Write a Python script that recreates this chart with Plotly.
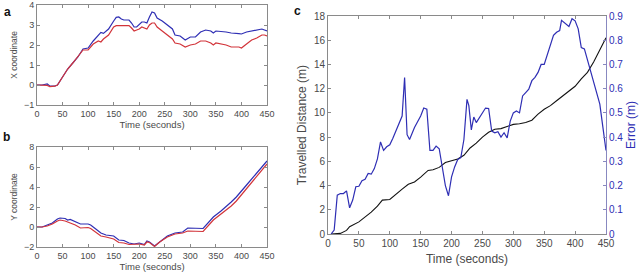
import plotly.graph_objects as go

# Panel a: X coordinate
ta = [0, 10, 20, 25, 35, 40, 50, 60, 70, 80, 90, 100, 110, 120, 125, 130, 140, 150, 155, 160, 165, 170, 180, 185, 190, 195, 200, 205, 210, 215, 220, 225, 230, 235, 245, 255, 265, 270, 280, 290, 300, 310, 320, 330, 340, 345, 350, 370, 380, 395, 400, 410, 420, 430, 440, 445, 450]
xa_blue = [0, 0, 0.05, -0.05, -0.05, 0, 0.4, 0.8, 1.1, 1.4, 1.8, 1.85, 2.2, 2.5, 2.63, 2.58, 2.8, 3.2, 3.38, 3.4, 3.3, 3.25, 3.25, 3.1, 2.9, 2.9, 3.05, 3.15, 3.15, 3.1, 3.4, 3.65, 3.6, 3.35, 3.2, 3.0, 2.8, 2.5, 2.45, 2.25, 2.4, 2.4, 2.65, 2.75, 2.7, 2.6, 2.7, 2.65, 2.6, 2.57, 2.55, 2.65, 2.7, 2.75, 2.8, 2.75, 2.7]
xa_red = [0, 0, -0.02, -0.08, -0.06, 0, 0.4, 0.8, 1.1, 1.4, 1.75, 1.75, 2.05, 2.2, 2.15, 2.3, 2.5, 2.9, 2.97, 2.97, 2.97, 2.97, 2.97, 2.85, 2.7, 2.75, 2.8, 2.9, 2.85, 2.8, 3.0, 3.1, 3.1, 2.9, 2.7, 2.5, 2.3, 2.1, 2.05, 1.9, 2.0, 2.05, 2.2, 2.2, 2.1, 2.0, 2.1, 2.0, 1.9, 1.9, 1.85, 2.05, 2.25, 2.35, 2.5, 2.5, 2.45]

# Panel b: Y coordinate
tb = [0, 10, 20, 30, 40, 45, 55, 60, 65, 75, 85, 100, 105, 115, 125, 135, 150, 160, 170, 180, 190, 200, 210, 215, 220, 230, 240, 255, 270, 285, 295, 310, 325, 345, 360, 380, 390, 410, 430, 450]
yb_blue = [0, 0, 0.2, 0.4, 0.8, 0.9, 0.85, 0.7, 0.75, 0.5, 0.3, 0.3, 0.2, -0.2, -0.6, -0.8, -0.9, -1.3, -1.35, -1.6, -1.7, -1.6, -1.75, -1.4, -1.5, -1.9, -1.5, -0.9, -0.6, -0.5, -0.1, -0.1, -0.15, 1.0, 1.6, 2.5, 3.0, 4.2, 5.4, 6.6]
yb_red = [0, 0, 0.1, 0.3, 0.6, 0.7, 0.6, 0.5, 0.45, 0.2, -0.1, -0.05, -0.15, -0.5, -0.9, -1.0, -1.2, -1.55, -1.6, -1.75, -1.7, -1.7, -1.8, -1.5, -1.55, -1.95, -1.5, -1.0, -0.7, -0.6, -0.4, -0.4, -0.45, 0.7, 1.3, 2.1, 2.6, 3.8, 5.0, 6.3]

# Panel c: travelled distance
tc_d = [5, 10, 20, 30, 35, 50, 60, 70, 80, 88, 100, 110, 120, 130, 140, 150, 162, 170, 180, 190, 200, 210, 220, 230, 240, 250, 260, 270, 280, 290, 300, 310, 320, 330, 340, 350, 360, 370, 380, 390, 400, 410, 420, 430, 440, 450]
dist = [0, 0, 0.05, 0.3, 0.6, 1.0, 1.4, 1.8, 2.3, 2.8, 2.85, 3.3, 3.7, 4.1, 4.3, 4.7, 5.25, 5.3, 5.5, 5.9, 6.05, 6.2, 6.5, 7.1, 7.5, 8.0, 8.4, 8.65, 8.7, 8.9, 9.05, 9.1, 9.2, 9.4, 9.9, 10.3, 10.6, 11.0, 11.4, 11.8, 12.2, 12.8, 13.35, 14.2, 15.15, 16.2]

# Panel c: error
tc_e = [5, 10, 15, 20, 25, 30, 35, 40, 45, 50, 55, 60, 65, 70, 75, 80, 85, 90, 95, 100, 105, 110, 115, 120, 124, 128, 132, 140, 150, 155, 160, 163, 165, 170, 175, 180, 185, 190, 195, 200, 205, 210, 215, 220, 225, 228, 232, 236, 240, 245, 250, 255, 260, 265, 270, 275, 280, 285, 290, 295, 300, 305, 310, 315, 320, 325, 330, 335, 340, 345, 350, 355, 360, 365, 370, 375, 378, 385, 390, 395, 400, 405, 410, 415, 420, 425, 430, 435, 440, 445, 450]
err = [0, 0.016, 0.16, 0.167, 0.167, 0.178, 0.108, 0.14, 0.195, 0.197, 0.22, 0.226, 0.25, 0.247, 0.27, 0.31, 0.38, 0.345, 0.36, 0.368, 0.395, 0.428, 0.46, 0.487, 0.646, 0.41, 0.39, 0.44, 0.487, 0.52, 0.515, 0.397, 0.345, 0.345, 0.363, 0.352, 0.27, 0.2, 0.158, 0.236, 0.277, 0.308, 0.315, 0.39, 0.556, 0.53, 0.43, 0.483, 0.46, 0.48, 0.5, 0.52, 0.518, 0.425, 0.418, 0.422, 0.4, 0.418, 0.397, 0.466, 0.5, 0.508, 0.5, 0.57, 0.584, 0.598, 0.633, 0.647, 0.667, 0.70, 0.70, 0.743, 0.785, 0.82, 0.833, 0.84, 0.882, 0.868, 0.857, 0.889, 0.88, 0.847, 0.77, 0.764, 0.72, 0.674, 0.633, 0.578, 0.536, 0.44, 0.345]

BLUE = "#2e2eb4"
RED = "#d2343a"
GREY = "#4a4a4a"
AXC = "#8a8a8a"
FONT = "Liberation Sans, Arial, sans-serif"

fig = go.Figure()
fig.add_trace(go.Scatter(x=ta, y=xa_blue, mode="lines", line=dict(color=BLUE, width=1.2), xaxis="x", yaxis="y"))
fig.add_trace(go.Scatter(x=ta, y=xa_red, mode="lines", line=dict(color=RED, width=1.2), xaxis="x", yaxis="y"))
fig.add_trace(go.Scatter(x=tb, y=yb_blue, mode="lines", line=dict(color=BLUE, width=1.2), xaxis="x2", yaxis="y2"))
fig.add_trace(go.Scatter(x=tb, y=yb_red, mode="lines", line=dict(color=RED, width=1.2), xaxis="x2", yaxis="y2"))
fig.add_trace(go.Scatter(x=tc_d, y=dist, mode="lines", line=dict(color="#111111", width=1.1), xaxis="x3", yaxis="y3"))
fig.add_trace(go.Scatter(x=tc_e, y=err, mode="lines", line=dict(color=BLUE, width=1.2), xaxis="x3", yaxis="y4"))

def xax(domain, anchor, size, title_size, standoff):
    return dict(domain=domain, anchor=anchor, range=[0, 450], tickmode="array",
                tickvals=list(range(0, 451, 50)), ticks="inside", ticklen=3, tickcolor=AXC,
                showline=True, linecolor=AXC, linewidth=1, mirror="ticks", showgrid=False,
                zeroline=False, automargin=False,
                tickfont=dict(size=size, color=GREY, family=FONT),
                title=dict(text="Time (seconds)", font=dict(size=title_size, color=GREY, family=FONT), standoff=standoff))

def yax(domain, anchor, rng, tv, text, size, title_size, standoff):
    return dict(domain=domain, anchor=anchor, range=rng, tickmode="array", tickvals=tv,
                ticks="inside", ticklen=3, tickcolor=AXC, showline=True, linecolor=AXC,
                linewidth=1, mirror="ticks", showgrid=False, zeroline=False, automargin=False,
                tickfont=dict(size=size, color=GREY, family=FONT),
                title=dict(text=text, font=dict(size=title_size, color=GREY, family=FONT), standoff=standoff))

fig.update_layout(
    width=640, height=276, margin=dict(l=0, r=0, t=0, b=0),
    paper_bgcolor="white", plot_bgcolor="white", showlegend=False,
    xaxis=xax([37/640, 267/640], "y", 9, 9.5, 2),
    yaxis=yax([1-105/276, 1-5/276], "x", [-1, 4], [-1, 0, 1, 2, 3, 4], "X coordinate", 9, 8.5, 4),
    xaxis2=xax([37/640, 267/640], "y2", 9, 9.5, 3),
    yaxis2=yax([1-247/276, 1-147/276], "x2", [-2, 8], [-2, 0, 2, 4, 6, 8], "Y coordinate", 9, 8.5, 4),
    xaxis3=xax([328/640, 606/640], "y3", 10, 12, 6),
    yaxis3=yax([1-234/276, 1-16/276], "x3", [0, 18], list(range(0, 19, 2)), "Travelled Distance (m)", 10, 12, 4),
    yaxis4=dict(overlaying="y3", side="right", anchor="x3", range=[0, 0.9],
                tickmode="array", tickvals=[i/10 for i in range(10)],
                ticktext=["0"] + [f"{i/10:.1f}" for i in range(1, 10)],
                ticks="inside", ticklen=3, tickcolor="#8888c0", showline=True, linecolor="#8888c0",
                showgrid=False, zeroline=False, automargin=False,
                tickfont=dict(size=10, color=BLUE, family=FONT),
                title=dict(text="Error (m)", font=dict(size=12, color=BLUE, family=FONT), standoff=4)),
)

for txt, x, y in [("a", 7, 12), ("b", 6, 137), ("c", 297, 11)]:
    fig.add_annotation(text=f"<b>{txt}</b>", x=x/640, y=1-y/276, xref="paper", yref="paper",
                       showarrow=False, xanchor="center", yanchor="middle",
                       font=dict(size=12, color="#111111", family=FONT))

fig.write_html("out.html", config={"displayModeBar": False},
               post_script="document.body.style.margin='0';document.body.style.overflow='hidden';")
